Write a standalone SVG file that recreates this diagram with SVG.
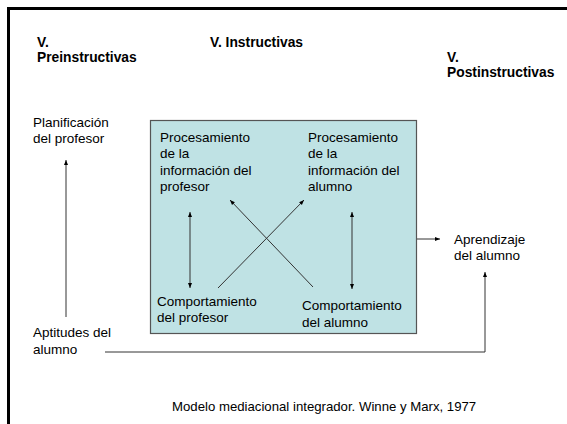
<svg xmlns="http://www.w3.org/2000/svg" width="567" height="424" viewBox="0 0 567 424">
<style>
.t{font-family:"Liberation Sans",Arial,sans-serif;font-size:13.5px;fill:#000}
.c{font-family:"Liberation Sans",Arial,sans-serif;font-size:13.2px;fill:#000}
.h{font-family:"Liberation Sans",Arial,sans-serif;font-size:13.8px;font-weight:bold;fill:#000}
.ln{stroke:#333;stroke-width:1;fill:none}
</style>
<defs>
<marker id="ah" viewBox="0 0 10 10" refX="10" refY="5" markerWidth="5" markerHeight="5" orient="auto-start-reverse" markerUnits="userSpaceOnUse">
<path d="M0,1 L10,5 L0,9 Z" fill="#000"/>
</marker>
</defs>
<rect x="0" y="0" width="567" height="424" fill="#fff"/>
<rect x="8.5" y="8.5" width="600" height="450" fill="none" stroke="#000" stroke-width="3"/>
<g id="headers">
<text class="h" x="37" y="47">V.</text>
<text class="h" x="37" y="62">Preinstructivas</text>
<text class="h" x="210" y="47">V. Instructivas</text>
<text class="h" x="447" y="62">V.</text>
<text class="h" x="447" y="77">Postinstructivas</text>
</g>
<g id="box">
<rect x="150.5" y="120.5" width="266" height="213" fill="#BFE2E4" stroke="#555" stroke-width="1.2"/>
</g>
<g id="proc-prof">
<text class="t" x="160" y="142">Procesamiento</text>
<text class="t" x="160" y="158">de la</text>
<text class="t" x="160" y="175">información del</text>
<text class="t" x="160" y="191">profesor</text>
</g>
<g id="proc-alum">
<text class="t" x="308" y="142">Procesamiento</text>
<text class="t" x="308" y="158">de la</text>
<text class="t" x="308" y="175">información del</text>
<text class="t" x="308" y="191">alumno</text>
</g>
<g id="comp-prof">
<text class="t" x="157" y="306">Comportamiento</text>
<text class="t" x="157" y="322">del profesor</text>
</g>
<g id="comp-alum">
<text class="t" x="302" y="310">Comportamiento</text>
<text class="t" x="302" y="327">del alumno</text>
</g>
<g id="planif">
<text class="t" x="33" y="127">Planificación</text>
<text class="t" x="33" y="143">del profesor</text>
</g>
<g id="aptitudes">
<text class="t" x="33" y="337">Aptitudes del</text>
<text class="t" x="33" y="354">alumno</text>
</g>
<g id="aprendizaje">
<text class="t" x="454" y="244">Aprendizaje</text>
<text class="t" x="454" y="260">del alumno</text>
</g>
<g id="caption">
<text class="c" x="172" y="411">Modelo mediacional integrador. Winne y Marx, 1977</text>
</g>
<g id="connectors">
<line class="ln" x1="190" y1="212" x2="190" y2="288" marker-start="url(#ah)" marker-end="url(#ah)"/>
<line class="ln" x1="352" y1="212" x2="352" y2="289" marker-start="url(#ah)" marker-end="url(#ah)"/>
<line class="ln" x1="218" y1="288" x2="304" y2="200" marker-end="url(#ah)"/>
<line class="ln" x1="313" y1="287" x2="230" y2="200" marker-end="url(#ah)"/>
<line class="ln" x1="417" y1="239" x2="440" y2="239" marker-end="url(#ah)"/>
<line class="ln" x1="66" y1="317" x2="66" y2="160" marker-end="url(#ah)"/>
<polyline class="ln" points="105,352 485,352 485,272" marker-end="url(#ah)"/>
</g>
</svg>
